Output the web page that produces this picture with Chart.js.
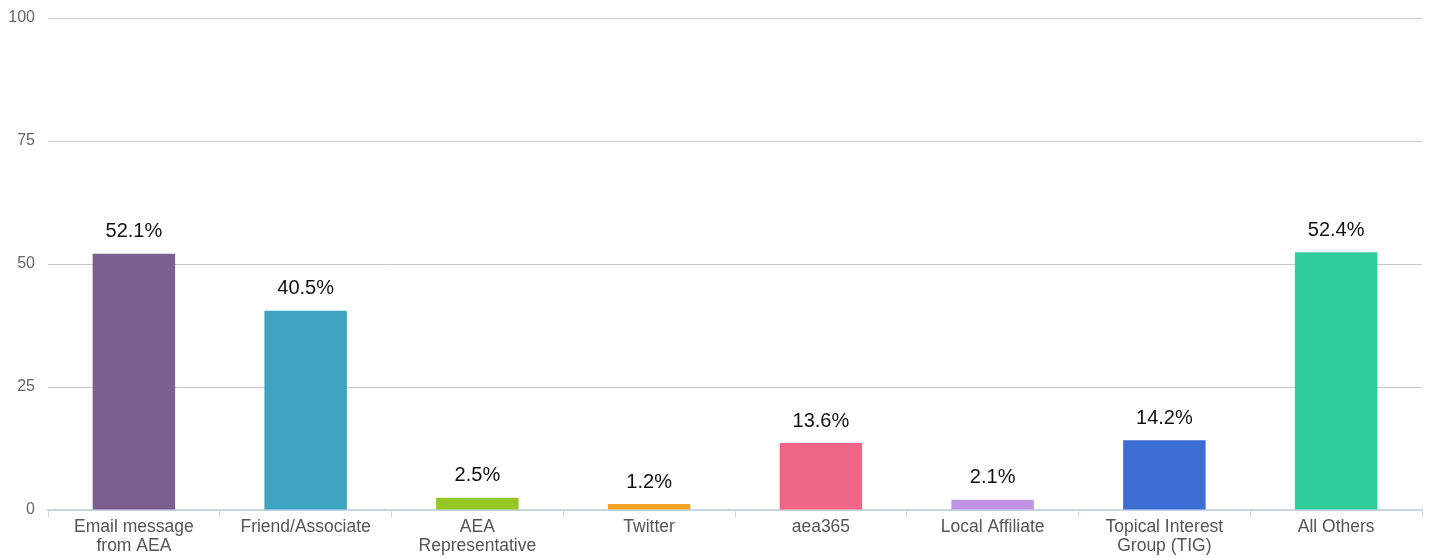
<!DOCTYPE html>
<html>
<head>
<meta charset="utf-8">
<script src="https://cdn.jsdelivr.net/npm/chart.js@4/dist/chart.umd.min.js"></script>
<style>
  html,body{margin:0;padding:0;background:#fff;}
  #wrap{width:1431px;height:558px;position:relative;}
</style>
</head>
<body>
<div id="wrap"><canvas id="c"></canvas></div>
<script>
// data
const categories = [
  ['Email message','from AEA'], 'Friend/Associate', ['AEA','Representative'], 'Twitter',
  'aea365', 'Local Affiliate', ['Topical Interest','Group (TIG)'], 'All Others'
];
const values = [52.1, 40.5, 2.5, 1.2, 13.6, 2.1, 14.2, 52.4];
const barColors = ['#7b5f8f','#3fa3c2','#95c623','#f5a623','#ef6585','#bf93e2','#3b6dd3','#2ecd9b'];
const yTicks = [0, 25, 50, 75, 100];

// labels above the bars
const valueLabels = {
  id: 'valueLabels',
  afterDatasetsDraw(chart) {
    const ctx = chart.ctx;
    const meta = chart.getDatasetMeta(0);
    ctx.save();
    ctx.font = '20px "Liberation Sans", Arial, sans-serif';
    ctx.fillStyle = '#111';
    ctx.textAlign = 'center';
    ctx.textBaseline = 'middle';
    meta.data.forEach((bar, i) => {
      ctx.fillText(values[i].toFixed(1) + '%', bar.x, bar.y - 22);
    });
    ctx.restore();
  }
};

new Chart(document.getElementById('c'), {
  type: 'bar',
  data: {
    labels: categories,
    datasets: [{
      data: values,
      backgroundColor: barColors,
      borderWidth: 0,
      categoryPercentage: 1,
      barPercentage: 0.48
    }]
  },
  options: {
    responsive: true,
    maintainAspectRatio: false,
    animation: false,
    layout: { padding: { top: 18, right: 9, left: 0, bottom: 0 } },
    plugins: { legend: { display: false }, tooltip: { enabled: false } },
    scales: {
      y: {
        min: 0, max: 100,
        afterBuildTicks: ax => { ax.ticks = yTicks.map(v => ({ value: v })); },
        afterFit: ax => { ax.width = 48; ax.paddingTop = 0; ax.paddingBottom = 0; },
        grid: { color: '#c8c8c8', drawTicks: false },
        border: { display: false },
        ticks: { color: '#666', padding: 13, font: { family: '"Liberation Sans", Arial', size: 16 } }
      },
      x: {
        afterFit: ax => { ax.height = 48; },
        grid: { color: '#c8d6e4', drawOnChartArea: false, drawTicks: true, tickLength: 7 },
        border: { color: '#c8d6e4', width: 2 },
        ticks: { color: '#555', padding: 1, font: { family: '"Liberation Sans", Arial', size: 17.5, lineHeight: 1.06 }, maxRotation: 0, autoSkip: false }
      }
    }
  },
  plugins: [valueLabels]
});
</script>
</body>
</html>
